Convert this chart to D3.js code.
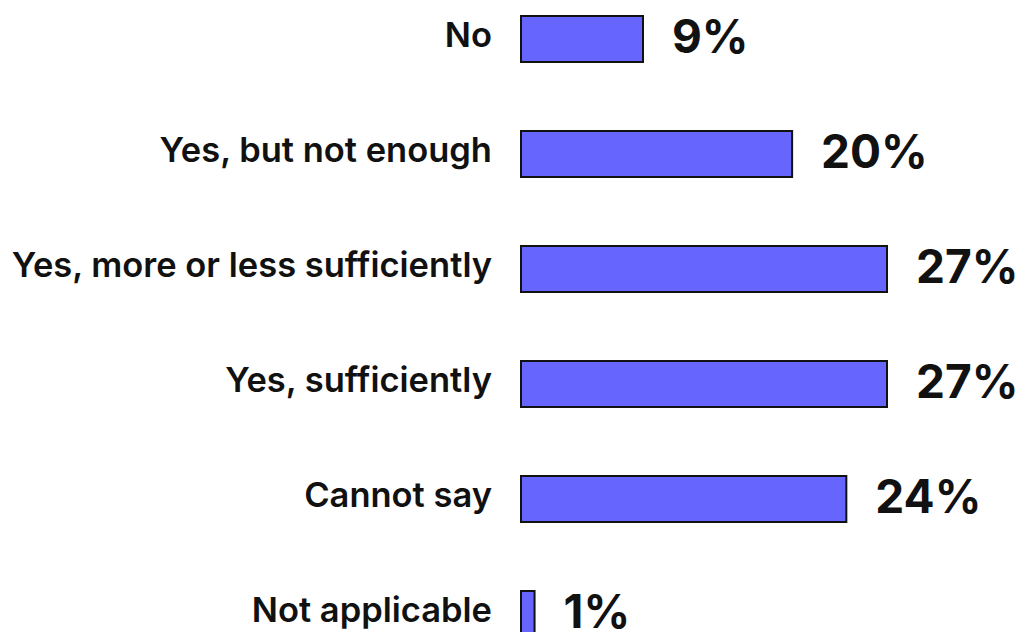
<!DOCTYPE html>
<html><head><meta charset="utf-8">
<script src="https://cdn.jsdelivr.net/npm/d3@7"></script>
<style>html,body{margin:0;padding:0;background:#fff;overflow:hidden}</style>
</head><body>
<svg id="c" width="1023" height="632"></svg>
<script>
const categories = ["No","Yes, but not enough","Yes, more or less sufficiently","Yes, sufficiently","Cannot say","Not applicable"];
const values = [9,20,27,27,24,1];
const valueLabels = ["9%","20%","27%","27%","24%","1%"];

const svg = d3.select("#c");
const x0 = 521;
const x = d3.scaleLinear().domain([0,27]).range([x0, 887]);
const y = d3.scaleBand().domain(categories).range([-18.5, 671.5]).paddingInner(0.6).paddingOuter(0.3);

const g = svg.append("g");
g.selectAll("rect").data(categories).join("rect")
  .attr("x", x(0)).attr("y", d => y(d))
  .attr("width", (d,i) => x(values[i]) - x(0))
  .attr("height", y.bandwidth())
  .attr("fill", "#6666ff").attr("stroke", "#111").attr("stroke-width", 2);

g.selectAll("text.cat").data(categories).join("text").attr("class","cat")
  .attr("x", 492).attr("y", d => y(d) + y.bandwidth()/2 + 8)
  .attr("text-anchor","end")
  .attr("font-family","Inter, 'Noto Sans', sans-serif").attr("font-weight",600).attr("font-size",34.5)
  .attr("fill","#111").text(d => d);

g.selectAll("text.val").data(categories).join("text").attr("class","val")
  .attr("x", (d,i) => x(values[i]) + 29).attr("y", d => y(d) + y.bandwidth()/2 + 14)
  .attr("font-family","Inter, 'Noto Sans', sans-serif").attr("font-weight",700).attr("font-size",46)
  .attr("fill","#111").text((d,i) => valueLabels[i]);
</script>
</body></html>
